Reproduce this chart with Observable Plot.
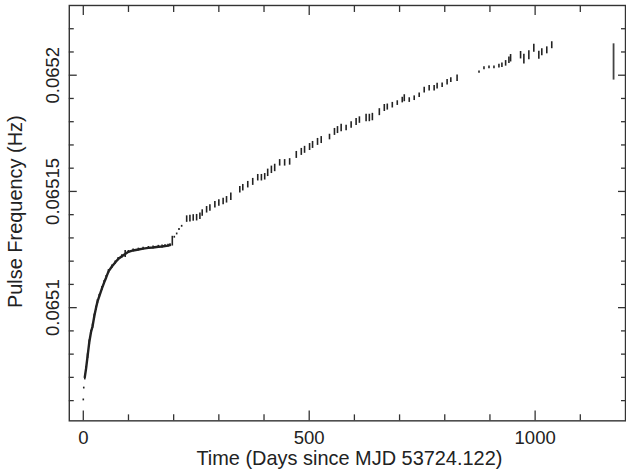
<!DOCTYPE html>
<html><head><meta charset="utf-8">
<script src="https://cdn.jsdelivr.net/npm/d3@7"></script>
<script src="https://cdn.jsdelivr.net/npm/@observablehq/plot@0.6"></script>
<style>
html,body{margin:0;padding:0;background:#fff;overflow:hidden;}
#chart svg{display:block;}
</style></head><body><div id="chart"></div>
<script>
// Time (days since MJD 53724.122)
const days = [0, 1, 3.3, 6.0, 9.5, 13.2, 17.0, 20.5, 24.3, 28.0, 31.5, 35.3, 41.3, 46.3, 50.7, 55.8, 63.3, 70.6, 77.2, 85.4,
  92.7, 99.9, 110.3, 122.0, 132.4, 144.1, 154.4, 166.1, 174.3, 180.9, 187.5, 191.9, 197.0, 201.4, 206.7, 211.8, 217.7,
  228.8, 236.0, 243.3, 250.8, 258.1, 263.2, 272.9, 280.2, 291.2, 300.0, 309.5, 317.0, 326.5, 346.4, 353.0, 364.0, 375.0,
  386.1, 394.2, 401.5, 408.1, 416.3, 423.6, 434.6, 445.6, 456.7, 471.4, 482.5, 489.7, 500.8, 507.4, 518.4, 526.6, 544.9,
  555.9, 562.6, 570.7, 581.7, 592.8, 603.8, 611.1, 625.9, 633.1, 639.8, 655.2, 666.2, 672.8, 683.9, 694.9, 705.9, 710.4,
  721.4, 732.4, 743.4, 754.5, 765.5, 776.5, 783.1, 794.2, 805.2, 813.4, 827.3, 875.8, 886.8, 897.9, 908.9, 919.9, 926.5,
  934.7, 942.0, 945.7, 967.8, 975.1, 986.1, 997.1, 1008.2, 1014.8, 1025.8, 1036.8];
// Pulse frequency (Hz)
const freq = [0.0650603, 0.0650654, 0.0650701, 0.0650736, 0.0650791, 0.0650851, 0.0650894, 0.0650920, 0.0650963, 0.0650997,
  0.0651027, 0.0651049, 0.0651083, 0.0651109, 0.0651130, 0.0651156, 0.0651177, 0.0651194, 0.0651209, 0.0651221,
  0.0651231, 0.0651240, 0.0651246, 0.0651250, 0.0651254, 0.0651257, 0.0651259, 0.0651262, 0.0651263, 0.0651265,
  0.0651267, 0.0651269, 0.0651286, 0.0651303, 0.0651317, 0.0651336, 0.0651350, 0.0651381, 0.0651383, 0.0651386,
  0.0651387, 0.0651393, 0.0651407, 0.0651421, 0.0651429, 0.0651443, 0.0651450, 0.0651457, 0.0651464, 0.0651477,
  0.0651507, 0.0651516, 0.0651529, 0.0651541, 0.0651559, 0.0651559, 0.0651563, 0.0651580, 0.0651593, 0.0651601,
  0.0651623, 0.0651623, 0.0651627, 0.0651657, 0.0651670, 0.0651679, 0.0651691, 0.0651700, 0.0651713, 0.0651721,
  0.0651734, 0.0651756, 0.0651764, 0.0651773, 0.0651773, 0.0651786, 0.0651799, 0.0651807, 0.0651816, 0.0651816,
  0.0651820, 0.0651841, 0.0651859, 0.0651863, 0.0651871, 0.0651880, 0.0651893, 0.0651901, 0.0651893, 0.0651901,
  0.0651914, 0.0651936, 0.0651944, 0.0651944, 0.0651953, 0.0651957, 0.0651970, 0.0651979, 0.0651987, 0.0652013,
  0.0652030, 0.0652034, 0.0652034, 0.0652039, 0.0652043, 0.0652051, 0.0652064, 0.0652073, 0.0652086, 0.0652069,
  0.0652086, 0.0652116, 0.0652086, 0.0652099, 0.0652107, 0.0652129];
// Half-length of each error bar (Hz)
const err = [4e-7, 4e-7, 1.2e-6, 1.0e-6, 1.0e-6, 1.0e-6, 9e-7, 9e-7, 9e-7, 9e-7,
  8e-7, 8e-7, 8e-7, 8e-7, 8e-7, 8e-7, 7e-7, 7e-7, 7e-7, 7e-7,
  1.5e-6, 6e-7, 6e-7, 6e-7, 6e-7, 6e-7, 6e-7, 6e-7, 6e-7, 6e-7,
  6e-7, 6e-7, 2.1e-6, 4e-7, 4e-7, 4e-7, 4e-7, 1.4e-6, 1.4e-6, 1.4e-6,
  1.4e-6, 1.4e-6, 1.4e-6, 1.4e-6, 1.4e-6, 1.4e-6, 1.4e-6, 1.4e-6, 1.4e-6, 1.6e-6,
  1.4e-6, 1.4e-6, 1.4e-6, 1.5e-6, 1.4e-6, 1.4e-6, 1.4e-6, 1.6e-6, 1.6e-6, 1.6e-6,
  1.4e-6, 1.4e-6, 1.4e-6, 1.5e-6, 1.5e-6, 1.5e-6, 1.5e-6, 1.5e-6, 1.5e-6, 1.5e-6,
  1.2e-6, 1.5e-6, 1.5e-6, 1.6e-6, 1.2e-6, 1.4e-6, 1.5e-6, 1.4e-6, 1.6e-6, 1.6e-6,
  1.6e-6, 1.5e-6, 1.5e-6, 1.3e-6, 1.2e-6, 1.0e-6, 1.2e-6, 1.5e-6, 1.0e-6, 1.0e-6,
  1.0e-6, 1.2e-6, 1.2e-6, 1.2e-6, 1.2e-6, 1.0e-6, 1.2e-6, 1.0e-6, 1.4e-6, 5e-7,
  6e-7, 6e-7, 6e-7, 8e-7, 1.0e-6, 1.2e-6, 1.4e-6, 1.6e-6, 1.6e-6, 2.1e-6,
  1.9e-6, 1.7e-6, 1.7e-6, 1.5e-6, 1.5e-6, 1.5e-6];
// Representative error bar at the right
const refDay = [1173.6];
const refFreq = [0.0652057];
const refErr = [7.8e-6];

const xMajorTicks = [0, 500, 1000];
const xMinorTicks = [100, 200, 300, 400, 600, 700, 800, 900, 1100];
const xTickLabels = ["0", "500", "1000"];
const yMajorTicks = [0.0651, 0.06515, 0.0652];
const yMinorTicks = [0.06506, 0.06507, 0.06508, 0.06509, 0.06511, 0.06512, 0.06513, 0.06514,
  0.06516, 0.06517, 0.06518, 0.06519, 0.06521, 0.06522];
const yTickLabels = ["0.0651", "0.06515", "0.0652"];
const xTitle = "Time (Days since MJD 53724.122)";
const yTitle = "Pulse Frequency (Hz)";

const rows = days.map((d, i) => ({day: d, f: freq[i], e: err[i]}));
const refRows = refDay.map((d, i) => ({day: d, f: refFreq[i], e: refErr[i]}));
const dense = rows.filter(r => r.day >= 3 && r.day <= 192);

const ink = "#222";
const axisInk = "#333";

const chart = Plot.plot({
  width: 628,
  height: 476,
  marginLeft: 69,
  marginRight: 1,
  marginTop: 5,
  marginBottom: 54.3,
  style: {fontFamily: "'Liberation Sans', Arial, Helvetica, sans-serif", color: ink, background: "#fff"},
  x: {domain: [-31, 1200]},
  y: {domain: [0.0650513, 0.06523]},
  marks: [
    Plot.frame({stroke: axisInk, strokeWidth: 1.4}),
    // inward ticks
    Plot.axisX(xMinorTicks, {anchor: "bottom", tickSize: 6, dy: -6, fill: "none", stroke: axisInk, strokeWidth: 1.3, label: null}),
    Plot.axisX(xMajorTicks, {anchor: "bottom", tickSize: 10, dy: -10, fill: "none", stroke: axisInk, strokeWidth: 1.3, label: null}),
    Plot.axisX(xMinorTicks, {anchor: "top", tickSize: 6, dy: 6, fill: "none", stroke: axisInk, strokeWidth: 1.3, label: null}),
    Plot.axisX(xMajorTicks, {anchor: "top", tickSize: 9, dy: 9, fill: "none", stroke: axisInk, strokeWidth: 1.3, label: null}),
    Plot.axisY(yMinorTicks, {anchor: "left", tickSize: 5, dx: 5, fill: "none", stroke: axisInk, strokeWidth: 1.3, label: null}),
    Plot.axisY(yMajorTicks, {anchor: "left", tickSize: 8, dx: 8, fill: "none", stroke: axisInk, strokeWidth: 1.3, label: null}),
    Plot.axisY(yMinorTicks, {anchor: "right", tickSize: 5, dx: -5, fill: "none", stroke: axisInk, strokeWidth: 1.3, label: null}),
    Plot.axisY(yMajorTicks, {anchor: "right", tickSize: 8, dx: -8, fill: "none", stroke: axisInk, strokeWidth: 1.3, label: null}),
    // tick labels
    Plot.axisX(xMajorTicks, {anchor: "bottom", tickSize: 0, tickPadding: 10, fontSize: 18.6, fill: ink,
      tickFormat: d => xTickLabels[xMajorTicks.indexOf(d)], label: null}),
    Plot.axisY(yMajorTicks, {anchor: "left", tickSize: 0, tickPadding: 10.7, tickRotate: -90, textAnchor: "middle", lineAnchor: "bottom",
      fontSize: 18.6, fill: ink, tickFormat: d => yTickLabels[yMajorTicks.indexOf(d)], label: null}),
    // axis titles
    Plot.text([xTitle], {text: d => d, frameAnchor: "bottom", dy: 44.3, dx: 2, lineAnchor: "bottom", fontSize: 20, fill: ink}),
    Plot.text([yTitle], {text: d => d, frameAnchor: "left", dx: -47.3, dy: -1.5, rotate: -90, textAnchor: "middle", lineAnchor: "bottom", fontSize: 20, fill: ink}),
    // data
    Plot.line(dense, {x: "day", y: "f", stroke: ink, strokeWidth: 2.4}),
    Plot.ruleX(rows, {x: "day", y1: r => r.f - r.e, y2: r => r.f + r.e, stroke: ink, strokeWidth: 1.6}),
    Plot.ruleX(refRows, {x: "day", y1: r => r.f - r.e, y2: r => r.f + r.e, stroke: "#444", strokeWidth: 1.8})
  ]
});
document.getElementById("chart").appendChild(chart);
</script>
</body></html>
